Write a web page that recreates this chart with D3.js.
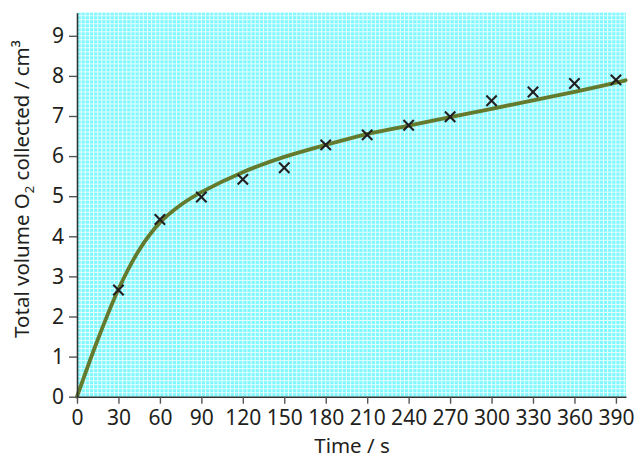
<!DOCTYPE html>
<html>
<head>
<meta charset="utf-8">
<script src="https://cdn.jsdelivr.net/npm/d3@7"></script>
<style>
  html, body { margin: 0; padding: 0; background: #fff; }
  svg { display: block; }
  text { font-family: "Noto Sans", "Open Sans", sans-serif; fill: #231f20; }
</style>
</head>
<body>
<script>
// ---- data ----
const times = [30, 60, 90, 120, 150, 180, 210, 240, 270, 300, 330, 360, 390];
const volumes = [2.66, 4.42, 4.98, 5.42, 5.71, 6.28, 6.53, 6.77, 6.98, 7.38, 7.6, 7.81, 7.9];
const curveTimes = [0, 15, 30, 45, 60, 75, 90, 120, 150, 180, 210, 240, 270, 300, 330, 360, 390, 397];
const curveVolumes = [0, 1.42, 2.68, 3.66, 4.34, 4.78, 5.1, 5.6, 5.98, 6.28, 6.55, 6.76, 6.97, 7.18, 7.39, 7.6, 7.83, 7.89];
const xTicks = [0, 30, 60, 90, 120, 150, 180, 210, 240, 270, 300, 330, 360, 390];
const yTicks = [0, 1, 2, 3, 4, 5, 6, 7, 8, 9];
const xLabel = "Time / s";

const W = 639, H = 459;
const mLeft = 77, mRight = 626, mTop = 12.7, mBottom = 396.7;

const x = d3.scaleLinear().domain([0, 397.3]).range([mLeft, mRight]);
const y = d3.scaleLinear().domain([0, 9.576]).range([mBottom, mTop]);

const svg = d3.select("body").append("svg").attr("width", W).attr("height", H);

// plot background
svg.append("rect").attr("x", mLeft).attr("y", mTop)
  .attr("width", mRight - mLeft).attr("height", mBottom - mTop)
  .attr("fill", "#80f8ff");

// grid
const grid = svg.append("g").attr("stroke", "#ffffff").attr("stroke-width", 1)
  .attr("opacity", 0.8);
const xMinor = d3.range(3, 397.3, 3);
const yMinor = d3.range(1, 96).map(d => d / 10);
grid.selectAll("line.gx").data(xMinor).join("line").attr("class", "gx")
  .attr("x1", d => x(d)).attr("x2", d => x(d))
  .attr("y1", mTop).attr("y2", mBottom);
grid.selectAll("line.gy").data(yMinor).join("line").attr("class", "gy")
  .attr("y1", d => y(d)).attr("y2", d => y(d))
  .attr("x1", mLeft).attr("x2", mRight);

// curve
const line = d3.line().x(d => x(d[0])).y(d => y(d[1])).curve(d3.curveCatmullRom.alpha(0.5));
svg.append("path")
  .datum(curveTimes.map((t, i) => [t, curveVolumes[i]]))
  .attr("d", line)
  .attr("fill", "none")
  .attr("stroke", "#647a2c")
  .attr("stroke-width", 3.8)
  .attr("stroke-linecap", "round");

// data markers (x)
const s = 5.2;
const marks = svg.append("g").attr("stroke", "#231f20").attr("stroke-width", 2.1);
times.forEach((t, i) => {
  const cx = x(t), cy = y(volumes[i]);
  marks.append("line").attr("x1", cx - s).attr("y1", cy - s).attr("x2", cx + s).attr("y2", cy + s);
  marks.append("line").attr("x1", cx - s).attr("y1", cy + s).attr("x2", cx + s).attr("y2", cy - s);
});

// axes
const xAxis = d3.axisBottom(x).tickValues(xTicks).tickSize(7).tickSizeOuter(0).tickPadding(6);
const gx = svg.append("g").attr("transform", `translate(0,${mBottom})`).call(xAxis);
gx.select(".domain").attr("stroke", "#333").attr("stroke-width", 1.6);
gx.selectAll(".tick line").attr("stroke", "#555").attr("stroke-width", 1.4);
gx.selectAll(".tick text").style("font-size", "21px").style("font-family", "'Noto Sans', sans-serif").attr("fill", "#231f20");

const yAxis = d3.axisLeft(y).tickValues(yTicks).tickSize(8).tickSizeOuter(0).tickPadding(5);
const gy = svg.append("g").attr("transform", `translate(${mLeft},0)`).call(yAxis);
gy.select(".domain").attr("stroke", "#333").attr("stroke-width", 1.6);
gy.selectAll(".tick line").attr("stroke", "#555").attr("stroke-width", 1.4);
gy.selectAll(".tick text").style("font-size", "21px").style("font-family", "'Noto Sans', sans-serif").attr("fill", "#231f20");

// axis titles
svg.append("text").attr("x", 352).attr("y", 453)
  .attr("text-anchor", "middle").style("font-size", "20.5px").text(xLabel);

const yt = svg.append("text")
  .attr("transform", `translate(29,189) rotate(-90)`)
  .attr("text-anchor", "middle").style("font-size", "20.5px");
yt.append("tspan").text("Total volume O");
yt.append("tspan").attr("dy", 5).style("font-size", "13px").text("2");
yt.append("tspan").attr("dy", -5).text(" collected / cm³");
</script>
</body>
</html>
